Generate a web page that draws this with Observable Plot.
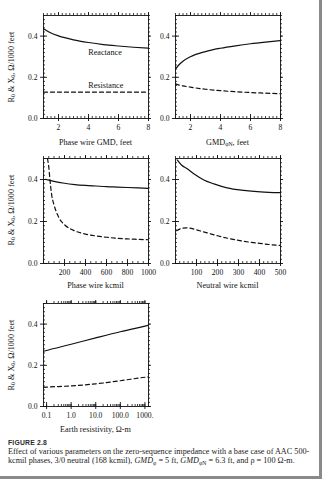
<!DOCTYPE html>
<html>
<head>
<meta charset="utf-8">
<script src="https://cdn.jsdelivr.net/npm/d3@7"></script>
<script src="https://cdn.jsdelivr.net/npm/@observablehq/plot@0.6"></script>
<style>
  html, body { margin:0; padding:0; background:#fff; }
  #page { position:absolute; left:0; top:0; width:319px; height:476px; border-right:3px solid #8a8a8a; border-bottom:3px solid #8a8a8a; overflow:hidden; }
  .pl { position:absolute; }
  .t { position:absolute; font-family:"Liberation Serif", serif; font-size:8.2px; color:#111; white-space:nowrap; transform:translate(-50%,-50%); line-height:1; }
  .yt { transform:translate(-50%,-50%) rotate(-90deg); }
  .cap { position:absolute; left:8px; font-family:"Liberation Serif", serif; font-size:8.2px; color:#222; white-space:nowrap; line-height:1; }
  .fig { position:absolute; left:8px; font-family:"Liberation Sans", sans-serif; font-weight:bold; font-size:6.8px; color:#2a2a2a; letter-spacing:0.2px; }
  sub { font-size:70%; vertical-align:-1.5px; line-height:0; }
</style>
</head>
<body>
<div id="page"></div>
<script>
// ---------- data ----------
// Panel 1: phase wire GMD (feet)
const gmdX        = [1, 1.5, 2, 3, 4, 5, 6, 7, 8];
const gmdReact    = [0.436, 0.415, 0.401, 0.382, 0.369, 0.359, 0.352, 0.346, 0.341];
const gmdResist   = [0.128, 0.128, 0.128, 0.128, 0.128, 0.128, 0.128, 0.128, 0.128];
// Panel 2: GMD phase-neutral (feet)
const gmdnX       = [1, 1.25, 1.5, 2, 3, 4, 5, 6, 7, 8];
const gmdnReact   = [0.240, 0.262, 0.278, 0.300, 0.325, 0.341, 0.353, 0.363, 0.371, 0.378];
const gmdnResist  = [0.168, 0.162, 0.158, 0.152, 0.142, 0.135, 0.130, 0.126, 0.123, 0.120];
// Panel 3: phase wire kcmil
const phReactX    = [15, 50, 100, 200, 300, 400, 500, 600, 700, 800, 900, 1000];
const phReact     = [0.401, 0.397, 0.391, 0.382, 0.376, 0.372, 0.369, 0.366, 0.364, 0.362, 0.360, 0.358];
const phResistX   = [38, 50, 65, 80, 100, 150, 200, 300, 400, 500, 600, 700, 800, 900, 1000];
const phResist    = [0.50, 0.46, 0.38, 0.32, 0.28, 0.215, 0.185, 0.155, 0.140, 0.131, 0.125, 0.120, 0.117, 0.115, 0.113];
// Panel 4: neutral wire kcmil
const nReactX     = [8, 30, 56, 87, 135, 183, 246, 325, 405, 500];
const nReact      = [0.494, 0.468, 0.451, 0.427, 0.398, 0.379, 0.360, 0.348, 0.341, 0.337];
const nResistX    = [5, 25, 50, 75, 100, 150, 200, 250, 300, 350, 400, 450, 500];
const nResist     = [0.156, 0.166, 0.170, 0.167, 0.160, 0.146, 0.132, 0.120, 0.110, 0.102, 0.096, 0.090, 0.086];
// Panel 5: earth resistivity (ohm-m)
const rhoX        = [0.075, 0.1, 1, 10, 100, 1000, 1400];
const rhoReact    = [0.268, 0.272, 0.302, 0.333, 0.363, 0.390, 0.394];
const rhoResist   = [0.093, 0.094, 0.100, 0.110, 0.125, 0.142, 0.144];

// tick labels
const yTicks      = [0, 0.2, 0.4];
const yTickLabels = ["0.0", "0.2", "0.4"];
const gmdTicks    = [2, 4, 6, 8];
const phTicks     = [200, 400, 600, 800, 1000];
const nTicks      = [100, 200, 300, 400, 500];
const rhoTicks    = [0.1, 1, 10, 100, 1000];
const rhoTickLabels = ["0.1", "1.0", "10.0", "100.0", "1000."];
const panel1Notes = [{x: 5.1, y: 0.322, text: "Reactance"}, {x: 5.15, y: 0.16, text: "Resistance"}];

// ---------- drawing ----------
const page = document.getElementById("page");
const FW = 105;
const zip = (xs, ys) => xs.map((x, i) => ({x, y: ys[i]}));

function panel(cfg) {
  const fh = cfg.fh;
  const mt = 15, mb = 17, ml = cfg.ml, w = 160;
  const ink = "#111";
  const yMinor = d3.range(0, 0.5001, 0.02);
  const marks = [
    Plot.frame({stroke: ink, strokeWidth: 0.9}),
    // bottom ticks (inward)
    Plot.tickX(cfg.xMinor, {x: d => d, insetTop: fh - 2, stroke: ink, strokeWidth: 0.8}),
    Plot.tickX(cfg.xMajor, {x: d => d, insetTop: fh - 4, insetBottom: -3, stroke: ink, strokeWidth: 0.9}),
    // top ticks (outward)
    Plot.tickX(cfg.xMinor, {x: d => d, insetBottom: fh - 2, dy: -2, stroke: ink, strokeWidth: 0.8}),
    Plot.tickX(cfg.xMajor, {x: d => d, insetBottom: fh - 3, dy: -3, stroke: ink, strokeWidth: 0.9}),
    // left ticks (inward)
    Plot.tickY(yMinor, {y: d => d, insetRight: FW - 2, stroke: ink, strokeWidth: 0.8}),
    Plot.tickY(yTicks, {y: d => d, insetRight: FW - 4, insetLeft: -3, stroke: ink, strokeWidth: 0.9}),
    // right ticks (outward)
    Plot.tickY(yMinor, {y: d => d, insetLeft: FW - 2, dx: 2, stroke: ink, strokeWidth: 0.8}),
    Plot.tickY(yTicks, {y: d => d, insetLeft: FW - 3, dx: 3, stroke: ink, strokeWidth: 0.9}),
    Plot.line(cfg.react, {x: "x", y: "y", stroke: ink, strokeWidth: 1.2, curve: "monotone-x", clip: true}),
    Plot.line(cfg.resist, {x: "x", y: "y", stroke: ink, strokeWidth: 1.2, strokeDasharray: "4,3", curve: "monotone-x", clip: true}),
    Plot.axisX({ticks: cfg.xMajor, tickSize: 0, tickPadding: 6, label: null, tickFormat: cfg.xFormat, fill: ink}),
    Plot.axisY({ticks: yTicks, tickSize: 0, tickPadding: 6, label: null, tickFormat: (d, i) => yTickLabels[yTicks.indexOf(d)], fill: ink})
  ];
  if (cfg.notes) marks.push(Plot.text(cfg.notes, {x: "x", y: "y", text: "text", fontSize: 8.2, fill: ink}));
  const svg = Plot.plot({
    width: w, height: mt + fh + mb,
    marginTop: mt, marginBottom: mb, marginLeft: ml, marginRight: w - ml - FW,
    x: {domain: cfg.xDomain, type: cfg.xType || "linear"},
    y: {domain: [0, 0.5]},
    style: {fontFamily: "Liberation Serif, serif", fontSize: "7.6px", background: "transparent", color: ink, overflow: "visible"},
    marks
  });
  svg.classList.add("pl");
  svg.style.left = cfg.left + "px";
  svg.style.top = cfg.top + "px";
  page.appendChild(svg);
}

function label(html, x, y, rot) {
  const d = document.createElement("div");
  d.className = "t" + (rot ? " yt" : "");
  d.innerHTML = html;
  d.style.left = x + "px";
  d.style.top = y + "px";
  page.appendChild(d);
}

panel({left: 0, top: 0, ml: 43, fh: 103, xDomain: [1, 8], xMajor: gmdTicks, xMinor: d3.range(1, 8.001, 0.25),
  xFormat: d => String(d), react: zip(gmdX, gmdReact), resist: zip(gmdX, gmdResist), notes: panel1Notes});
panel({left: 160, top: 0, ml: 15, fh: 103, xDomain: [1, 8], xMajor: gmdTicks, xMinor: d3.range(1, 8.001, 0.25),
  xFormat: d => String(d), react: zip(gmdnX, gmdnReact), resist: zip(gmdnX, gmdnResist)});
panel({left: 0, top: 143, ml: 43, fh: 105, xDomain: [0, 1000], xMajor: phTicks, xMinor: d3.range(0, 1000.1, 50),
  xFormat: d => String(d), react: zip(phReactX, phReact), resist: zip(phResistX, phResist)});
panel({left: 160, top: 143, ml: 15, fh: 105, xDomain: [0, 500], xMajor: nTicks, xMinor: d3.range(0, 500.1, 20),
  xFormat: d => String(d), react: zip(nReactX, nReact), resist: zip(nResistX, nResist)});
const logMinor = [];
[0.1, 1, 10, 100].forEach(b => [1,2,3,4,5,6,7,8,9].forEach(k => logMinor.push(b * k)));
logMinor.push(1000);
panel({left: 0, top: 288, ml: 43, fh: 103, xDomain: [0.075, 1400], xType: "log", xMajor: rhoTicks, xMinor: logMinor,
  xFormat: d => rhoTickLabels[rhoTicks.indexOf(d)], react: zip(rhoX, rhoReact), resist: zip(rhoX, rhoResist)});

// axis titles
const yTitle = "R<sub>0</sub> &amp; X<sub>0</sub>, Ω/1000 feet";
label(yTitle, 12, 67, true);
label(yTitle, 12, 210, true);
label(yTitle, 12, 355, true);
label("Phase wire GMD, feet", 95.5, 143);
label("GMD<sub>φN</sub>, feet", 227.5, 143);
label("Phase wire kcmil", 95.5, 286);
label("Neutral wire kcmil", 227.5, 286);
label("Earth resistivity, Ω-m", 95.5, 430);

// caption
const fig = document.createElement("div");
fig.className = "fig"; fig.style.top = "439px"; fig.textContent = "FIGURE 2.8";
page.appendChild(fig);
const cap1 = document.createElement("div");
cap1.className = "cap"; cap1.style.top = "448px";
cap1.textContent = "Effect of various parameters on the zero-sequence impedance with a base case of AAC 500-";
page.appendChild(cap1);
const cap2 = document.createElement("div");
cap2.className = "cap"; cap2.style.top = "456.5px";
cap2.innerHTML = "kcmil phases, 3/0 neutral (168 kcmil), <i>GMD</i><sub>φ</sub> = 5 ft, <i>GMD</i><sub>φN</sub> = 6.3 ft, and ρ = 100 Ω-m.";
page.appendChild(cap2);
</script>
</body>
</html>
